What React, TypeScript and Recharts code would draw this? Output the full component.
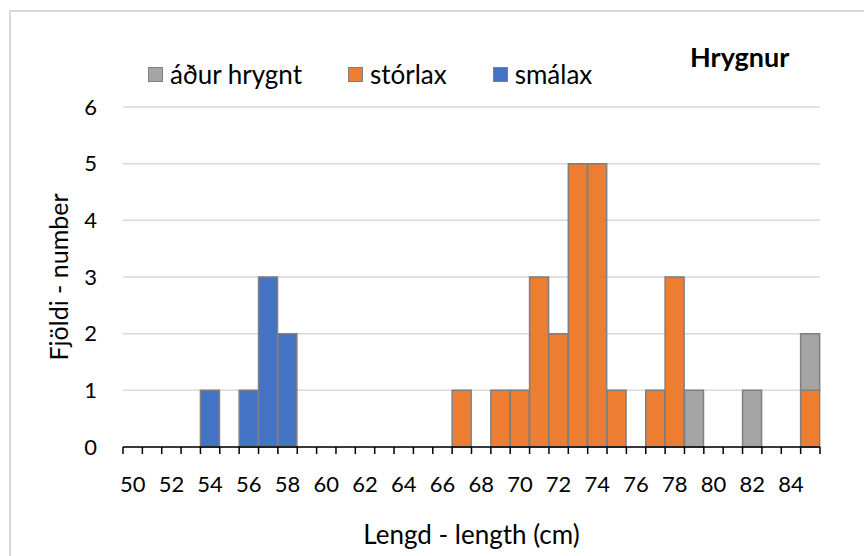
import React from "react";
import { BarChart, Bar, XAxis, YAxis, CartesianGrid, Legend } from "recharts";

const FONT = "Lato, 'Open Sans', sans-serif";

// lengths in cm, one category per cm
const lengths = [
  50, 51, 52, 53, 54, 55, 56, 57, 58, 59, 60, 61, 62, 63, 64, 65, 66, 67,
  68, 69, 70, 71, 72, 73, 74, 75, 76, 77, 78, 79, 80, 81, 82, 83, 84, 85,
];
const smalax = [
  0, 0, 0, 0, 1, 0, 1, 3, 2, 0, 0, 0, 0, 0, 0, 0, 0, 0,
  0, 0, 0, 0, 0, 0, 0, 0, 0, 0, 0, 0, 0, 0, 0, 0, 0, 0,
];
const storlax = [
  0, 0, 0, 0, 0, 0, 0, 0, 0, 0, 0, 0, 0, 0, 0, 0, 0, 1,
  0, 1, 1, 3, 2, 5, 5, 1, 0, 1, 3, 0, 0, 0, 0, 0, 0, 1,
];
const adurHrygnt = [
  0, 0, 0, 0, 0, 0, 0, 0, 0, 0, 0, 0, 0, 0, 0, 0, 0, 0,
  0, 0, 0, 0, 0, 0, 0, 0, 0, 0, 0, 1, 0, 0, 1, 0, 0, 1,
];
const yTicks = [0, 1, 2, 3, 4, 5, 6];

const data = lengths.map((len, i) => ({
  length: len,
  smalax: smalax[i],
  storlax: storlax[i],
  adur: adurHrygnt[i],
}));

const W = 864;
const H = 556;
const MARGIN = { top: 107, right: 44, bottom: 9, left: 43 };
const Y_AXIS_W = 80;
const PLOT_W = W - MARGIN.left - Y_AXIS_W - MARGIN.right;
const BAND = PLOT_W / lengths.length;

function LengthTick(props: any) {
  const { x, y, payload, index } = props;
  const left = x - BAND / 2;
  return (
    <g>
      <line x1={left} y1={y} x2={left} y2={y + 7} stroke="#000" strokeWidth={1.5} />
      {index === lengths.length - 1 && (
        <line x1={x + BAND / 2} y1={y} x2={x + BAND / 2} y2={y + 7} stroke="#000" strokeWidth={1.5} />
      )}
      {payload.value % 2 === 0 && (
        <text x={x} y={y + 45} textAnchor="middle" fill="#000" fontSize={22} fontFamily={FONT}>
          {payload.value}
        </text>
      )}
    </g>
  );
}

function LegendContent(props: any) {
  const items = [...(props.payload ?? [])].reverse();
  return (
    <div style={{ display: "flex", alignItems: "center", fontFamily: FONT, fontSize: 26, color: "#000" }}>
      {items.map((it: any) => (
        <div key={it.value} style={{ display: "flex", alignItems: "center", marginRight: 46 }}>
          <span
            style={{
              display: "inline-block",
              width: 13,
              height: 13,
              background: it.color,
              border: "1.5px solid #7f7f7f",
              marginRight: 7,
            }}
          />
          <span>{it.value}</span>
        </div>
      ))}
    </div>
  );
}

export default function App() {
  return (
    <div style={{ position: "absolute", left: 0, top: 0, width: W, height: H, overflow: "hidden", background: "#fff" }}>
      {/* chart frame, only top and left edges fall inside the picture */}
      <div
        style={{
          position: "absolute",
          left: 9,
          top: 10,
          width: 900,
          height: 600,
          border: "2px solid #d9d9d9",
        }}
      />
      <div
        style={{
          position: "absolute",
          left: 690,
          top: 40,
          fontFamily: FONT,
          fontWeight: 700,
          fontSize: 27,
          color: "#000",
        }}
      >
        Hrygnur
      </div>
      <BarChart
        width={W}
        height={H}
        data={data}
        margin={MARGIN}
        barCategoryGap={0}
        barGap={0}
        style={{ position: "absolute", left: 0, top: 0 }}
      >
        <CartesianGrid vertical={false} stroke="#d9d9d9" strokeWidth={1.5} />
        <XAxis
          dataKey="length"
          interval={0}
          height={100}
          tickSize={0}
          tickMargin={0}
          tickLine={false}
          axisLine={{ stroke: "#000", strokeWidth: 1.5 }}
          tick={<LengthTick />}
          label={{
            value: "Lengd - length (cm)",
            position: "insideBottom",
            offset: 3,
            style: { fontFamily: FONT, fontSize: 26, fill: "#000" },
          }}
        />
        <YAxis
          width={Y_AXIS_W}
          domain={[0, 6]}
          ticks={yTicks}
          interval={0}
          axisLine={false}
          tickLine={false}
          tickSize={0}
          tickMargin={26}
          tick={{ fill: "#000", fontSize: 22, fontFamily: FONT }}
          label={{
            value: "Fjöldi - number",
            angle: -90,
            position: "insideLeft",
            offset: 16,
            style: { textAnchor: "middle", fontFamily: FONT, fontSize: 25, fill: "#000" },
          }}
        />
        <Legend
          align="center"
          verticalAlign="middle"
          content={<LegendContent />}
          wrapperStyle={{ left: 148, top: 58, width: "auto", height: "auto" }}
        />
        <Bar dataKey="smalax" name="smálax" stackId="a" fill="#4472c4" stroke="#7f7f7f" strokeWidth={1.5} isAnimationActive={false} />
        <Bar dataKey="storlax" name="stórlax" stackId="a" fill="#ed7d31" stroke="#7f7f7f" strokeWidth={1.5} isAnimationActive={false} />
        <Bar dataKey="adur" name="áður hrygnt" stackId="a" fill="#a5a5a5" stroke="#7f7f7f" strokeWidth={1.5} isAnimationActive={false} />
      </BarChart>
    </div>
  );
}
